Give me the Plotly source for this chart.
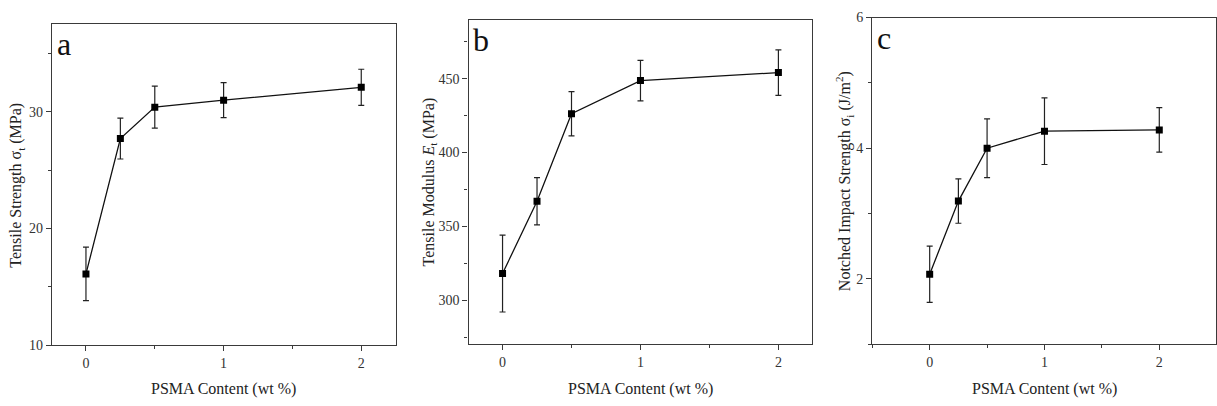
import plotly.graph_objects as go

# PSMA loading (wt %)
psma_content = [0, 0.25, 0.5, 1, 2]

# Tensile strength (MPa) and its standard deviation
tensile_strength = [16.1, 27.7, 30.4, 31.0, 32.1]
tensile_strength_err = [2.3, 1.75, 1.8, 1.5, 1.55]

# Tensile modulus (MPa) and its standard deviation
tensile_modulus = [318.2, 367.1, 426.3, 448.7, 454.1]
tensile_modulus_err = [26, 16, 15, 13.7, 15.4]

# Notched impact strength (J/m^2) and its standard deviation
impact_strength = [2.07, 3.19, 4.0, 4.26, 4.28]
impact_strength_err = [0.43, 0.34, 0.45, 0.51, 0.34]

panel_letters = ["a", "b", "c"]
x_title = "PSMA Content (wt %)"
y_titles = [
    "Tensile Strength σ<sub>t</sub> (MPa)",
    "Tensile Modulus <i>E</i><sub>t</sub> (MPa)",
    "Notched Impact Strength σ<sub>i</sub> (J/m<sup>2</sup>)",
]
x_tick_values = [0, 1, 2]

W, H = 1217, 406
FONT = "Liberation Serif, Times New Roman, serif"

# panel boxes in pixels: (left, right, top, bottom)
boxes = [(52, 396, 18, 351), (469, 813, 13, 350), (873, 1217, 11, 350)]
x_ranges = [[-0.247, 2.25], [-0.246, 2.246], [-0.5, 2.494]]
y_ranges = [[10, 37.5], [270.5, 490], [1.0, 6.0]]
y_dticks = [(10, 5, 10), (50, 25, 300), (2, 1, 0)]
title_x_px = [17, 430, 845]

series = [
    (tensile_strength, tensile_strength_err),
    (tensile_modulus, tensile_modulus_err),
    (impact_strength, impact_strength_err),
]

fig = go.Figure()
axis_line = "#3a3a3a"

for i, ((vals, errs), (l, r, t, b)) in enumerate(zip(series, boxes)):
    n = "" if i == 0 else str(i + 1)
    xa, ya = "x" + n, "y" + n
    fig.add_trace(go.Scatter(
        x=psma_content, y=vals, mode="lines+markers",
        xaxis=xa, yaxis=ya,
        line=dict(color="#111111", width=1.3),
        marker=dict(symbol="square", size=7, color="#000000"),
        error_y=dict(type="data", array=errs, visible=True,
                     color="#222222", thickness=1.2, width=3),
        showlegend=False,
    ))
    common = dict(
        showgrid=False, zeroline=False, showline=True, mirror=True,
        linecolor=axis_line, linewidth=1.4,
        ticks="outside", ticklen=5, tickwidth=1.2, tickcolor=axis_line,
        tickfont=dict(family=FONT, size=14, color="#333333"),
    )
    fig.layout["xaxis" + n] = dict(
        common, domain=[l / W, r / W], anchor=ya, range=x_ranges[i],
        tickvals=x_tick_values,
        minor=dict(ticks="outside", ticklen=3, tickwidth=1.2,
                   tickcolor=axis_line, dtick=0.5, tick0=0),
    )
    dt, mdt, t0 = y_dticks[i]
    fig.layout["yaxis" + n] = dict(
        common, domain=[1 - b / H, 1 - t / H], anchor=xa, range=y_ranges[i],
        dtick=dt, tick0=t0,
        minor=dict(ticks="outside", ticklen=3, tickwidth=1.2,
                   tickcolor=axis_line, dtick=mdt, tick0=t0),
    )
    # panel letter
    fig.add_annotation(
        text=panel_letters[i], xref=xa + " domain", yref=ya + " domain",
        x=0.008, y=1.0, xanchor="left", yanchor="top", showarrow=False,
        font=dict(family=FONT, size=32, color="#111111"),
    )
    # x-axis title
    fig.add_annotation(
        text=x_title, xref=xa + " domain", yref="paper",
        x=0.5, y=1 - 397 / H, xanchor="center", yanchor="middle",
        showarrow=False, font=dict(family=FONT, size=16, color="#222222"),
    )
    # y-axis title
    fig.add_annotation(
        text=y_titles[i], xref="paper", yref=ya + " domain",
        x=title_x_px[i] / W, y=0.5, xanchor="center", yanchor="middle",
        textangle=-90, showarrow=False,
        font=dict(family=FONT, size=16, color="#222222"),
    )

fig.update_layout(
    width=W, height=H, margin=dict(l=0, r=0, t=0, b=0),
    paper_bgcolor="white", plot_bgcolor="white",
)

fig.write_html("out.html")
